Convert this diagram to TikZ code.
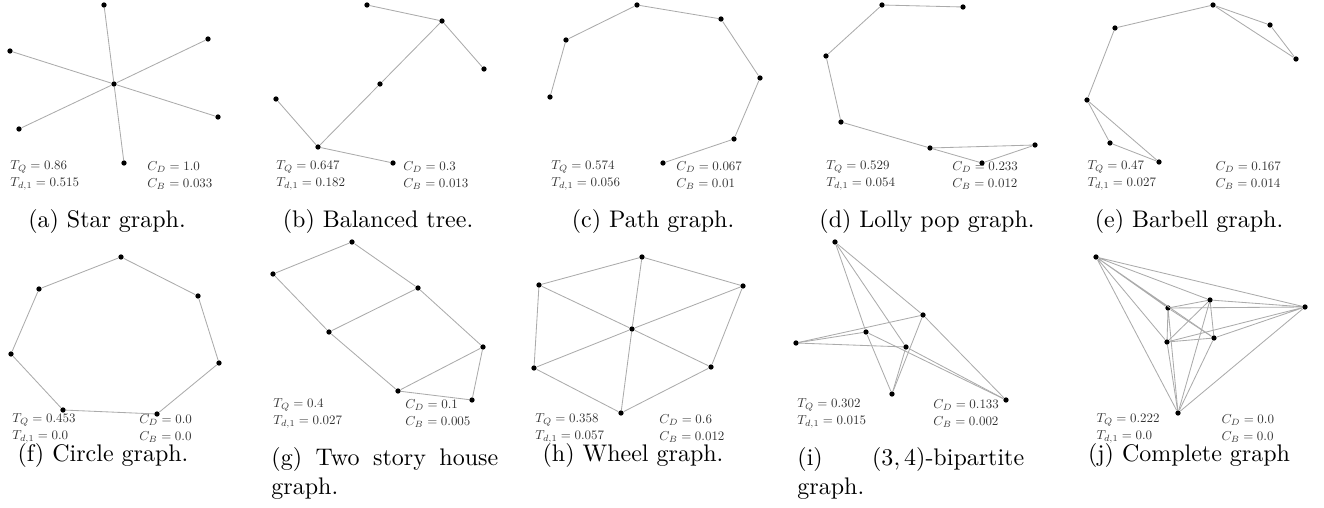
\documentclass[tikz,border=0pt]{standalone}
\usepackage{amsmath,amssymb}
\usepackage{xcolor}
\usepackage{graphicx}
\usepackage{tikz}
\usetikzlibrary{positioning}
\newcommand{\sval}[1]{\scalebox{0.54}{$#1$}}
\tikzset{
    vertex/.style={circle, fill=black, inner sep=0pt, minimum size=2.2pt},
    edge/.style={draw=black!33, line width=0.35pt},
    stat/.style={anchor=west, inner sep=0pt, text=black!80},
    caption/.style={font=\normalsize, inner sep=0pt},
    longcaption/.style={font=\normalsize, inner sep=0pt, anchor=north west, text width=94.5pt, align=left},
}

\begin{document}
\begin{tikzpicture}[x=0.01465cm, y=-0.01465cm]
    \useasboundingbox (0,0) rectangle (1324,508);

    % (a) star
    \node[vertex] (a0) at (114,84) {};
    \node[vertex] (a1) at (104,5) {};
    \node[vertex] (a2) at (208,39) {};
    \node[vertex] (a3) at (10,51) {};
    \node[vertex] (a4) at (19,129) {};
    \node[vertex] (a5) at (218,117) {};
    \node[vertex] (a6) at (124,163) {};
    \draw[edge] (a0) -- (a1);
    \draw[edge] (a0) -- (a2);
    \draw[edge] (a0) -- (a3);
    \draw[edge] (a0) -- (a4);
    \draw[edge] (a0) -- (a5);
    \draw[edge] (a0) -- (a6);
    \node[stat] (aTQ) at (10,167) {\sval{T_Q = 0.86}};
    \node[stat] (aTd) at (10,184) {\sval{T_{d,1} = 0.515}};
    \node[stat] (aCD) at (147,167) {\sval{C_D = 1.0}};
    \node[stat] (aCB) at (147,184) {\sval{C_B = 0.033}};
    \node[caption] (acap) at (107,222) {(a) Star graph.};

    % (b) balanced tree
    \node[vertex] (b1) at (367,5) {};
    \node[vertex] (b2) at (442,21) {};
    \node[vertex] (b3) at (484,69) {};
    \node[vertex] (b4) at (380,84) {};
    \node[vertex] (b5) at (276,99) {};
    \node[vertex] (b6) at (318,147) {};
    \node[vertex] (b7) at (393,163) {};
    \draw[edge] (b1) -- (b2);
    \draw[edge] (b2) -- (b3);
    \draw[edge] (b2) -- (b4);
    \draw[edge] (b4) -- (b6);
    \draw[edge] (b5) -- (b6);
    \draw[edge] (b6) -- (b7);
    \node[stat] (bTQ) at (276,167) {\sval{T_Q = 0.647}};
    \node[stat] (bTd) at (276,184) {\sval{T_{d,1} = 0.182}};
    \node[stat] (bCD) at (403,167) {\sval{C_D = 0.3}};
    \node[stat] (bCB) at (403,184) {\sval{C_B = 0.013}};
    \node[caption] (bcap) at (378,222) {(b) Balanced tree.};

    % (c) path
    \node[vertex] (c1) at (550,97) {};
    \node[vertex] (c2) at (566,40) {};
    \node[vertex] (c3) at (637,5) {};
    \node[vertex] (c4) at (721,19) {};
    \node[vertex] (c5) at (760,78) {};
    \node[vertex] (c6) at (734,139) {};
    \node[vertex] (c7) at (663,163) {};
    \draw[edge] (c1) -- (c2);
    \draw[edge] (c2) -- (c3);
    \draw[edge] (c3) -- (c4);
    \draw[edge] (c4) -- (c5);
    \draw[edge] (c5) -- (c6);
    \draw[edge] (c6) -- (c7);
    \node[stat] (cTQ) at (551,167) {\sval{T_Q = 0.574}};
    \node[stat] (cTd) at (551,184) {\sval{T_{d,1} = 0.056}};
    \node[stat] (cCD) at (676,167) {\sval{C_D = 0.067}};
    \node[stat] (cCB) at (676,184) {\sval{C_B = 0.01}};
    \node[caption] (ccap) at (653,222) {(c) Path graph.};

    % (d) lollipop
    \node[vertex] (d1) at (963,7) {};
    \node[vertex] (d2) at (882,5) {};
    \node[vertex] (d3) at (826,56) {};
    \node[vertex] (d4) at (841,122) {};
    \node[vertex] (d5) at (930,148) {};
    \node[vertex] (d6) at (1035,145) {};
    \node[vertex] (d7) at (982,163) {};
    \draw[edge] (d1) -- (d2);
    \draw[edge] (d2) -- (d3);
    \draw[edge] (d3) -- (d4);
    \draw[edge] (d4) -- (d5);
    \draw[edge] (d5) -- (d6);
    \draw[edge] (d5) -- (d7);
    \draw[edge] (d6) -- (d7);
    \node[stat] (dTQ) at (826,167) {\sval{T_Q = 0.529}};
    \node[stat] (dTd) at (826,184) {\sval{T_{d,1} = 0.054}};
    \node[stat] (dCD) at (952,167) {\sval{C_D = 0.233}};
    \node[stat] (dCB) at (952,184) {\sval{C_B = 0.012}};
    \node[caption] (dcap) at (927,222) {(d) Lolly pop graph.};

    % (e) barbell
    \node[vertex] (e1) at (1213,5) {};
    \node[vertex] (e2) at (1270,25) {};
    \node[vertex] (e3) at (1296,59) {};
    \node[vertex] (e4) at (1115,28) {};
    \node[vertex] (e5) at (1087,100) {};
    \node[vertex] (e6) at (1110,143) {};
    \node[vertex] (e7) at (1159,162) {};
    \draw[edge] (e1) -- (e2);
    \draw[edge] (e2) -- (e3);
    \draw[edge] (e1) -- (e3);
    \draw[edge] (e1) -- (e4);
    \draw[edge] (e4) -- (e5);
    \draw[edge] (e5) -- (e6);
    \draw[edge] (e5) -- (e7);
    \draw[edge] (e6) -- (e7);
    \node[stat] (eTQ) at (1087,167) {\sval{T_Q = 0.47}};
    \node[stat] (eTd) at (1087,184) {\sval{T_{d,1} = 0.027}};
    \node[stat] (eCD) at (1215,167) {\sval{C_D = 0.167}};
    \node[stat] (eCB) at (1215,184) {\sval{C_B = 0.014}};
    \node[caption] (ecap) at (1189,222) {(e) Barbell graph.};

    % (f) circle
    \node[vertex] (f1) at (121,257) {};
    \node[vertex] (f2) at (198,296) {};
    \node[vertex] (f3) at (219,363) {};
    \node[vertex] (f4) at (157,414) {};
    \node[vertex] (f5) at (63,410) {};
    \node[vertex] (f6) at (11,354) {};
    \node[vertex] (f7) at (39,289) {};
    \draw[edge] (f1) -- (f2);
    \draw[edge] (f2) -- (f3);
    \draw[edge] (f3) -- (f4);
    \draw[edge] (f4) -- (f5);
    \draw[edge] (f5) -- (f6);
    \draw[edge] (f6) -- (f7);
    \draw[edge] (f7) -- (f1);
    \node[stat] (fTQ) at (12,420) {\sval{T_Q = 0.453}};
    \node[stat] (fTd) at (12,437) {\sval{T_{d,1} = 0.0}};
    \node[stat] (fCD) at (139,420) {\sval{C_D = 0.0}};
    \node[stat] (fCB) at (139,437) {\sval{C_B = 0.0}};
    \node[caption] (fcap) at (103,455) {(f) Circle graph.};

    % (g) two story house
    \node[vertex] (g1) at (352,242) {};
    \node[vertex] (g2) at (273,274) {};
    \node[vertex] (g3) at (418,288) {};
    \node[vertex] (g4) at (329,332) {};
    \node[vertex] (g5) at (483,347) {};
    \node[vertex] (g6) at (398,391) {};
    \node[vertex] (g7) at (472,400) {};
    \draw[edge] (g1) -- (g2);
    \draw[edge] (g1) -- (g3);
    \draw[edge] (g2) -- (g4);
    \draw[edge] (g3) -- (g4);
    \draw[edge] (g3) -- (g5);
    \draw[edge] (g4) -- (g6);
    \draw[edge] (g5) -- (g6);
    \draw[edge] (g6) -- (g7);
    \draw[edge] (g5) -- (g7);
    \node[stat] (gTQ) at (273,405) {\sval{T_Q = 0.4}};
    \node[stat] (gTd) at (273,422) {\sval{T_{d,1} = 0.027}};
    \node[stat] (gCD) at (405,405) {\sval{C_D = 0.1}};
    \node[stat] (gCB) at (405,422) {\sval{C_B = 0.005}};
    \node[longcaption] (gcap) at (271,447) {(g)\hfill Two\hfill story\hfill house\\graph.};

    % (h) wheel
    \node[vertex] (h0) at (632,329) {};
    \node[vertex] (h1) at (642,257) {};
    \node[vertex] (h2) at (743,286) {};
    \node[vertex] (h3) at (711,367) {};
    \node[vertex] (h4) at (621,413) {};
    \node[vertex] (h5) at (534,368) {};
    \node[vertex] (h6) at (539,285) {};
    \draw[edge] (h1) -- (h2);
    \draw[edge] (h2) -- (h3);
    \draw[edge] (h3) -- (h4);
    \draw[edge] (h4) -- (h5);
    \draw[edge] (h5) -- (h6);
    \draw[edge] (h6) -- (h1);
    \draw[edge] (h0) -- (h1);
    \draw[edge] (h0) -- (h2);
    \draw[edge] (h0) -- (h3);
    \draw[edge] (h0) -- (h4);
    \draw[edge] (h0) -- (h5);
    \draw[edge] (h0) -- (h6);
    \node[stat] (hTQ) at (535,420) {\sval{T_Q = 0.358}};
    \node[stat] (hTd) at (535,437) {\sval{T_{d,1} = 0.057}};
    \node[stat] (hCD) at (659,420) {\sval{C_D = 0.6}};
    \node[stat] (hCB) at (659,437) {\sval{C_B = 0.012}};
    \node[caption] (hcap) at (633,455) {(h) Wheel graph.};

    % (i) (3,4)-bipartite
    \node[vertex] (i1) at (835,242) {};
    \node[vertex] (i2) at (923,315) {};
    \node[vertex] (i3) at (866,332) {};
    \node[vertex] (i4) at (796,343) {};
    \node[vertex] (i5) at (906,347) {};
    \node[vertex] (i6) at (892,394) {};
    \node[vertex] (i7) at (1006,400) {};
    \draw[edge] (i2) -- (i1);
    \draw[edge] (i2) -- (i4);
    \draw[edge] (i2) -- (i6);
    \draw[edge] (i2) -- (i7);
    \draw[edge] (i3) -- (i1);
    \draw[edge] (i3) -- (i4);
    \draw[edge] (i3) -- (i6);
    \draw[edge] (i3) -- (i7);
    \draw[edge] (i5) -- (i1);
    \draw[edge] (i5) -- (i4);
    \draw[edge] (i5) -- (i6);
    \draw[edge] (i5) -- (i7);
    \node[stat] (iTQ) at (797,405) {\sval{T_Q = 0.302}};
    \node[stat] (iTd) at (797,422) {\sval{T_{d,1} = 0.015}};
    \node[stat] (iCD) at (933,405) {\sval{C_D = 0.133}};
    \node[stat] (iCB) at (933,422) {\sval{C_B = 0.002}};
    \node[longcaption] (icap) at (797,447) {(i)\hfill $(3,4)$-bipartite\\graph.};

    % (j) complete
    \node[vertex] (j1) at (1096,257) {};
    \node[vertex] (j2) at (1210,300) {};
    \node[vertex] (j3) at (1168,308) {};
    \node[vertex] (j4) at (1305,307) {};
    \node[vertex] (j5) at (1167,342) {};
    \node[vertex] (j6) at (1214,338) {};
    \node[vertex] (j7) at (1178,413) {};
    \draw[edge] (j1) -- (j2) (j1) -- (j3) (j1) -- (j4) (j1) -- (j5) (j1) -- (j6) (j1) -- (j7);
    \draw[edge] (j2) -- (j3) (j2) -- (j4) (j2) -- (j5) (j2) -- (j6) (j2) -- (j7);
    \draw[edge] (j3) -- (j4) (j3) -- (j5) (j3) -- (j6) (j3) -- (j7);
    \draw[edge] (j4) -- (j5) (j4) -- (j6) (j4) -- (j7);
    \draw[edge] (j5) -- (j6) (j5) -- (j7);
    \draw[edge] (j6) -- (j7);
    \node[stat] (jTQ) at (1096,420) {\sval{T_Q = 0.222}};
    \node[stat] (jTd) at (1096,437) {\sval{T_{d,1} = 0.0}};
    \node[stat] (jCD) at (1221,420) {\sval{C_D = 0.0}};
    \node[stat] (jCB) at (1221,437) {\sval{C_B = 0.0}};
    \node[caption] (jcap) at (1189,455) {(j) Complete graph};
\end{tikzpicture}
\end{document}
